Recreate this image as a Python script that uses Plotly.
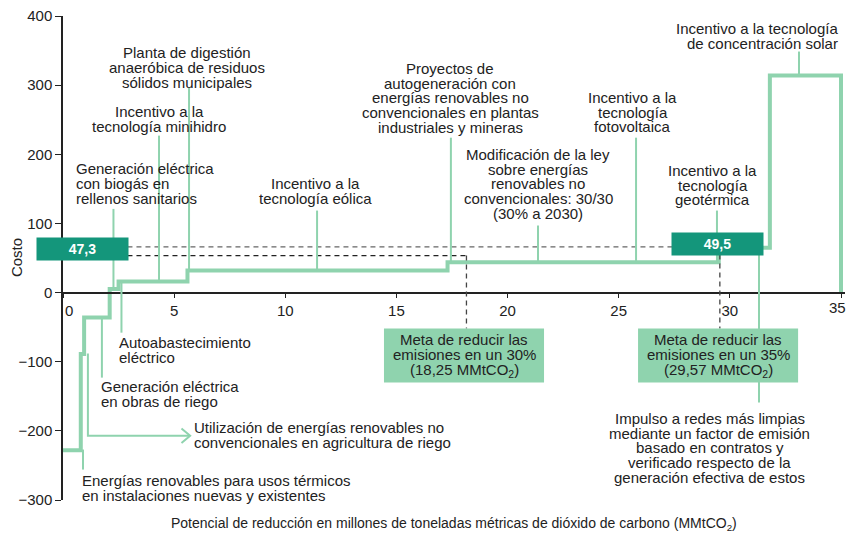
import plotly.graph_objects as go

# curva de costo marginal de abatimiento (escalones)
mmt_edges = [0, 0.8, 0.95, 2.1, 2.5, 5.6, 17.3, 29.5, 31.8, 35.0]
costo = [-228, -89, -36, 5, 16, 32, 44, 65, 314, 0]

x_ticks = [0, 5, 10, 15, 20, 25, 30, 35]
x_ticktext = ["\u00a0\u00a0\u00a00", "5", "10", "15", "20", "25", "30", ""]
x_last_label = "35"
y_ticks = [-300, -200, -100, 0, 100, 200, 300, 400]

valor_30 = "47,3"
valor_35 = "49,5"
meta_30 = ["Meta de reducir las", "emisiones en un 30%", "(18,25 MMtCO<sub>2</sub>)"]
meta_35 = ["Meta de reducir las", "emisiones en un 35%", "(29,57 MMtCO<sub>2</sub>)"]

CURVE = "#8FD3AE"
DARK = "#14967B"
TXT = "#222222"
FONT = "Liberation Sans, Arial, sans-serif"
LINE = 14.7

fig = go.Figure()

# lineas punteadas de referencia
fig.add_shape(type="line", x0=2.9, x1=27.4, y0=66, y1=66,
              line=dict(color="#666666", width=1.3, dash="5px,4px"))
fig.add_shape(type="line", x0=2.9, x1=18.15, y0=53.5, y1=53.5,
              line=dict(color="#222222", width=1.3, dash="5px,4px"))
fig.add_shape(type="line", x0=18.15, x1=18.15, y0=53.5, y1=-52,
              line=dict(color="#444444", width=1.3, dash="5px,4px"))
fig.add_shape(type="line", x0=29.55, x1=29.55, y0=55, y1=-52,
              line=dict(color="#444444", width=1.3, dash="5px,4px"))

fig.add_trace(go.Scatter(x=mmt_edges, y=costo, mode="lines", line_shape="hv",
                         line=dict(color=CURVE, width=4), hoverinfo="skip"))

# etiquetas: lineas de texto, posicion, alineacion, guia (x, y0, y1)
labels = [
    dict(lines=["Planta de digestión", "anaeróbica de residuos", "sólidos municipales"],
         x=5.58, y=347, align="center", lead=(5.67, 296, 33)),
    dict(lines=["Incentivo a la", "tecnología minihidro"],
         x=4.32, y=262, align="center", lead=(4.32, 227, 16)),
    dict(lines=["Generación eléctrica", "con biogás en", "rellenos sanitarios"],
         x=0.5, y=179, align="left", lead=(2.27, 121, 5)),
    dict(lines=["Autoabastecimiento", "eléctrico"],
         x=2.45, y=-72, align="left", lead=(2.63, 16, -58)),
    dict(lines=["Generación eléctrica", "en obras de riego"],
         x=1.6, y=-136, align="left", lead=(1.75, -36, -123)),
    dict(lines=["Utilización de energías renovables no", "convencionales en agricultura de riego"],
         x=5.8, y=-195, align="left", lead=None),
    dict(lines=["Energías renovables para usos térmicos", "en instalaciones nuevas y existentes"],
         x=0.75, y=-272, align="left", lead=(0.9, -227, -256)),
    dict(lines=["Incentivo a la", "tecnología eólica"],
         x=11.38, y=157.6, align="center", lead=(11.43, 118.6, 32)),
    dict(lines=["Proyectos de", "autogeneración con", "energías renovables no",
                "convencionales en plantas", "industriales y mineras"],
         x=17.41, y=324, align="center", lead=(17.45, 224, 44)),
    dict(lines=["Modificación de la ley", "sobre energías", "renovables no",
                "convencionales: 30/30", "(30% a 2030)"],
         x=21.37, y=199.6, align="center", lead=(21.37, 97, 44)),
    dict(lines=["Incentivo a la", "tecnología", "fotovoltaica"],
         x=25.64, y=282, align="center", lead=(25.78, 224, 44)),
    dict(lines=["Incentivo a la", "tecnología", "geotérmica"],
         x=29.24, y=176.5, align="center", lead=(29.42, 118.6, 44)),
    dict(lines=["Incentivo a la tecnología", "de concentración solar"],
         x=34.95, y=382, align="right", lead=(33.11, 348.6, 314)),
    dict(lines=["Impulso a redes más limpias", "mediante un factor de emisión",
                "basado en contratos y", "verificado respecto de la",
                "generación efectiva de estos"],
         x=29.1, y=-182, align="center", lead=(31.31, 65, -159)),
]

for lab in labels:
    if lab["lead"]:
        lx, ly0, ly1 = lab["lead"]
        fig.add_shape(type="line", x0=lx, x1=lx, y0=ly0, y1=ly1,
                      line=dict(color=CURVE, width=2))
    for i, t in enumerate(lab["lines"]):
        fig.add_annotation(x=lab["x"], y=lab["y"], text=t, showarrow=False,
                           xanchor=lab["align"], yanchor="middle", yshift=-i * LINE,
                           font=dict(family=FONT, size=15, color=TXT))

# guia con flecha para "Utilización..."
fig.add_shape(type="path", path="M 1.12,-88 L 1.12,-207 L 5.7,-207",
              line=dict(color=CURVE, width=2))
fig.add_shape(type="path", path="M 5.33,-196.5 L 5.72,-207 L 5.33,-217.5",
              line=dict(color=CURVE, width=2))

# cajas de metas
for xc, txt in [(18.04, meta_30), (29.47, meta_35)]:
    fig.add_shape(type="rect", x0=xc - 3.6, x1=xc + 3.6, y0=-52, y1=-130,
                  fillcolor=CURVE, line=dict(width=0))
    for i, t in enumerate(txt):
        fig.add_annotation(x=xc, y=-68, text=t, showarrow=False, xanchor="center",
                           yanchor="middle", yshift=-i * 15.3,
                           font=dict(family=FONT, size=15, color=TXT))

# cajas de valor
for xc, yc, v in [(0.877, 62.9, valor_30), (29.44, 70.9, valor_35)]:
    fig.add_annotation(x=xc, y=yc, text="<b>" + v + "</b>", showarrow=False,
                       xanchor="center", yanchor="middle", width=91, height=22,
                       bgcolor=DARK, borderpad=0,
                       font=dict(family=FONT, size=14, color="white"))

# ultima etiqueta del eje x, algo corrida para que quepa en la ventana
fig.add_annotation(x=x_ticks[-1], y=0, text=x_last_label, showarrow=False,
                   xanchor="center", yanchor="top", xshift=-4, yshift=-5, borderpad=0,
                   font=dict(family=FONT, size=15, color=TXT))

fig.add_annotation(xref="paper", yref="paper", x=0.5, y=-0.05,
                   text="Potencial de reducción en millones de toneladas métricas de dióxido de carbono (MMtCO<sub>2</sub>)",
                   showarrow=False, xanchor="center", yanchor="middle",
                   font=dict(family=FONT, size=14, color=TXT))
fig.add_annotation(xref="paper", yref="paper", x=-0.06, y=0.5, text="Costo",
                   textangle=-90, showarrow=False, xanchor="center", yanchor="middle",
                   font=dict(family=FONT, size=15, color=TXT))

fig.update_layout(
    width=846, height=534,
    margin=dict(l=63, r=1, t=16, b=34),
    plot_bgcolor="white", paper_bgcolor="white",
    showlegend=False,
    font=dict(family=FONT, size=15, color=TXT),
    xaxis=dict(range=[0, 35.18], tickvals=x_ticks, ticktext=x_ticktext,
               ticks="outside", ticklen=5,
               tickcolor="#222", showline=True, linecolor="#222", linewidth=1.5,
               showgrid=False, zeroline=False, anchor="free",
               position=300 / 700, tickfont=dict(size=15)),
    yaxis=dict(range=[-300, 400], tickvals=y_ticks, ticks="outside", ticklen=6,
               tickcolor="#222", showline=True, linecolor="#222", linewidth=1.5,
               showgrid=False, zeroline=False, tickfont=dict(size=15)),
)

# sin margen de pagina: la figura ocupa justo la ventana
fig.write_html("out.html", config={"displayModeBar": False},
               post_script="document.body.style.margin='0';document.body.style.overflow='hidden';")
